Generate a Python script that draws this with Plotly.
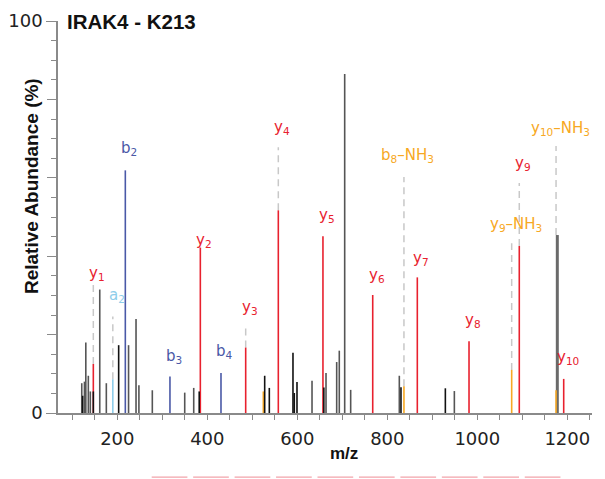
import plotly.graph_objects as go

# ---------------- data ----------------
# unassigned peaks (gray)
gray_mz = [121, 127, 130, 135.6, 140, 161, 175.6, 225, 241.6, 248, 277.8, 349.8, 369.8,
           632.7, 663.8, 687.5, 693.3, 705.3, 718.6, 826.7, 949]
gray_int = [7.6, 8.0, 18.0, 9.5, 5.5, 31.5, 7.6, 17.3, 24.0, 7.1, 5.8, 5.2, 6.4,
            8.2, 10.2, 13.0, 15.9, 86.5, 5.9, 9.5, 5.6]
# thick gray peak
thick_mz = [1177.8]
thick_int = [45.4]
# unassigned peaks (black)
black_mz = [123, 146.7, 203, 382, 527.5, 537.8, 590.4, 593.3, 599.3, 659, 830.4, 929]
black_int = [4.4, 5.5, 17.3, 5.5, 9.5, 6.4, 15.4, 5.1, 7.9, 6.5, 6.6, 6.3]

# y ions (red)
y_mz = [146.7, 384.5, 485.3, 557.8, 657.0, 767.6, 866.7, 981.6, 1093.3, 1192.0]
y_int = [12.5, 42.2, 16.7, 51.7, 45.1, 30.1, 34.6, 18.3, 42.6, 8.7]
y_names = ["1", "2", "3", "4", "5", "6", "7", "8", "9", "10"]
y_label_h = [35.7, 44.0, 27.0, 72.9, 50.5, 35.2, 39.5, 23.5, 63.7, 14.1]
y_dash_top = [33.5, None, 22.0, 67.8, None, None, None, None, 58.7, None]

# b ions (blue)
b_mz = [217.8, 317.0, 430.4]
b_int = [61.9, 9.3, 10.2]
b_names = ["2", "3", "4"]
b_label_h = [67.5, 14.3, 15.6]

# a ions (light blue)
a_mz = [190.0]
a_int = [8.6]
a_names = ["2"]
a_label_h = [29.9]
a_dash_top = [24.6]

# neutral-loss ions (orange)
nl_mz = [524.5, 837.0, 1076.4, 1175.0]
nl_int = [5.5, 6.8, 11.0, 5.8]
nl_names = [None, "b|8", "y|9", "y|10"]
nl_label_h = [None, 65.7, 48.2, 72.5]
nl_dash_top = [None, 60.2, 43.3, 68.1]
nl_dash_bottom = [None, 6.8, 11.0, 45.4]

x_ticks = [200, 400, 600, 800, 1000, 1200]
y_label_ticks = [0, 100]
y_major_ticks = [20, 40, 60, 80]

RED = "#e8212e"
BLUE = "#4a59a7"
LBLUE = "#8ecdea"
ORANGE = "#f7a823"
GRAY = "#555555"
BLACK = "#111111"
DASH = "#c8c8c8"


def stems(xs, ys):
    X, Y = [], []
    for x, y in zip(xs, ys):
        X += [x, x, None]
        Y += [0, y, None]
    return X, Y


def segs(xs, y0s, y1s):
    X, Y = [], []
    for x, a, b in zip(xs, y0s, y1s):
        if a is None or b is None:
            continue
        X += [x, x, None]
        Y += [a, b, None]
    return X, Y


fig = go.Figure()

# dashed guide lines
dx, dy = segs(y_mz, y_int, y_dash_top)
ax_, ay_ = segs(a_mz, a_int, a_dash_top)
nx_, ny_ = segs(nl_mz, nl_dash_bottom, nl_dash_top)
fig.add_trace(go.Scatter(x=dx + ax_ + nx_, y=dy + ay_ + ny_, mode="lines",
                         line=dict(color=DASH, width=1.5, dash="7px,5px"),
                         hoverinfo="skip"))

for xs, ys, col, w in [(gray_mz, gray_int, GRAY, 1.6),
                       (thick_mz, thick_int, "#6a6a6a", 3.0),
                       (y_mz, y_int, RED, 1.6),
                       (b_mz, b_int, BLUE, 1.6),
                       (a_mz, a_int, LBLUE, 1.6),
                       (nl_mz, nl_int, ORANGE, 1.6),
                       (black_mz, black_int, BLACK, 1.6)]:
    X, Y = stems(xs, ys)
    fig.add_trace(go.Scatter(x=X, y=Y, mode="lines", line=dict(color=col, width=w),
                             hoverinfo="skip"))

# invisible trace on overlay axis for the long unlabeled ticks
fig.add_trace(go.Scatter(x=[None], y=[None], yaxis="y2", hoverinfo="skip"))

LFONT = "DejaVu Sans"
ann = []


def lab(x, y, text, col):
    ann.append(dict(x=x, y=y, xref="x", yref="y", text=text, showarrow=False,
                    xanchor="center", yanchor="middle", xshift=4,
                    font=dict(family=LFONT, size=15, color=col)))


for x, h, n in zip(y_mz, y_label_h, y_names):
    lab(x, h, "y<sub>%s</sub>" % n, RED)
for x, h, n in zip(b_mz, b_label_h, b_names):
    lab(x, h, "b<sub>%s</sub>" % n, BLUE)
for x, h, n in zip(a_mz, a_label_h, a_names):
    lab(x, h, "a<sub>%s</sub>" % n, LBLUE)
for x, h, n in zip(nl_mz, nl_label_h, nl_names):
    if n is None:
        continue
    ion, num = n.split("|")
    lab(x, h, "%s<sub>%s</sub>\u2013NH<sub>3</sub>" % (ion, num), ORANGE)

# title, axis titles
ann.append(dict(x=(64.5 - 58) / 534, y=1.0, xref="paper", yref="paper",
                text="<b>IRAK4 - K213</b>", showarrow=False,
                xanchor="left", yanchor="middle",
                font=dict(family="Liberation Sans", size=20.5, color="#111")))
ann.append(dict(x=(31 - 58) / 534, y=(413.3 - 186) / 392.6, xref="paper", yref="paper",
                text="<b>Relative Abundance (%)</b>", textangle=-90, showarrow=False,
                xanchor="center", yanchor="middle",
                font=dict(family="Liberation Sans", size=19, color="#111")))
ann.append(dict(x=(344 - 58) / 534, y=(413.3 - 454) / 392.6, xref="paper", yref="paper",
                text="<b>m/z</b>", showarrow=False, xanchor="center", yanchor="middle",
                font=dict(family="Liberation Sans", size=17, color="#111")))

# decorative cut-off boxes at bottom
shapes = []
for k in range(10):
    x0 = 151.7 + k * 41.45
    shapes.append(dict(type="line", xref="paper", yref="paper",
                       x0=(x0 - 58) / 534, x1=(x0 + 35.7 - 58) / 534,
                       y0=(413.3 - 477.5) / 392.6, y1=(413.3 - 477.5) / 392.6,
                       line=dict(color="#f2a3aa", width=1.2)))

AX = "#8a8a8a"
fig.update_layout(
    width=605, height=479,
    margin=dict(l=58, r=13, t=21, b=66, autoexpand=False),
    paper_bgcolor="white", plot_bgcolor="white",
    showlegend=False,
    annotations=ann, shapes=shapes,
    xaxis=dict(range=[68.2, 1254.9], showgrid=False, zeroline=False, automargin=False,
               showline=True, linecolor=AX, linewidth=1.5,
               tickvals=x_ticks, ticks="outside", ticklen=5, tickwidth=1.2, tickcolor=AX,
               ticklabelstandoff=4,
               tickfont=dict(family="DejaVu Sans", size=18, color="#222"),
               minor=dict(tick0=0, dtick=50, ticks="outside", ticklen=5, tickwidth=1.2,
                          tickcolor=AX, showgrid=False)),
    yaxis=dict(range=[0, 100], showgrid=False, zeroline=False, automargin=False,
               showline=True, linecolor=AX, linewidth=1.5,
               tickvals=y_label_ticks, ticks="outside", ticklen=10,
               tickwidth=1.2, tickcolor=AX,
               tickfont=dict(family="DejaVu Sans", size=18, color="#222"),
               minor=dict(tick0=0, dtick=5, ticks="outside", ticklen=5, tickwidth=1.2,
                          tickcolor=AX, showgrid=False)),
    yaxis2=dict(range=[0, 100], overlaying="y", side="left", showgrid=False,
                zeroline=False, showline=False, tickvals=y_major_ticks, automargin=False,
                showticklabels=False, ticks="outside", ticklen=10, tickwidth=1.2,
                tickcolor=AX),
)

fig.write_html("out.html")
